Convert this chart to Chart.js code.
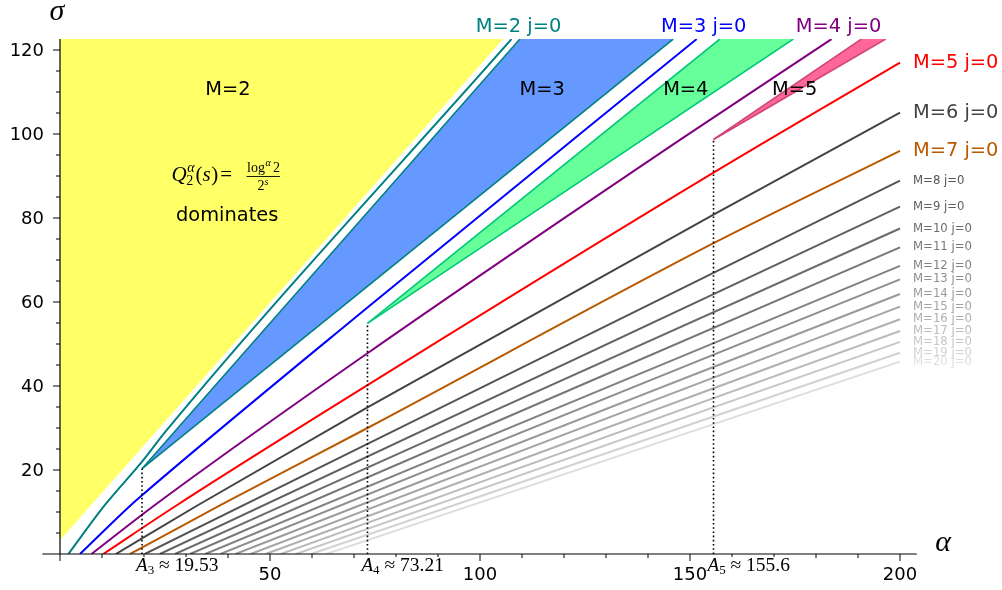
<!DOCTYPE html>
<html>
<head>
<meta charset="utf-8">
<script src="https://cdn.jsdelivr.net/npm/chart.js@4/dist/chart.umd.min.js"></script>
<style>
html,body{margin:0;padding:0;background:#fff;}
#c{display:block;}
</style>
</head>
<body>
<canvas id="c" width="1002" height="590"></canvas>
<script>
// ---------------- data ----------------
const xMinVal = -4.2, xMaxVal = 204.0;
const yMinVal = 0, yMaxVal = 122.6;
const xTickLabels = [50, 100, 150, 200];
const yTickLabels = [20, 40, 60, 80, 100, 120];

// shaded regions (alpha, sigma): tip, left-top, right-top
const yellowRegion = [[0, 3.3], [105.5, 122.6], [0, 122.6]];
const m3Region = [[19.53, 20.3], [109.5, 122.6], [146.0, 122.6]];
const m4Region = [[73.21, 54.9], [157.1, 122.6], [174.6, 122.6]];
const m5Region = [[155.6, 98.7], [190.8, 122.6], [196.6, 122.6]];

// thresholds A_M and the sigma where the region tip sits
const thresholdAlpha = [19.53, 73.21, 155.6];
const thresholdSigma = [20.3, 54.9, 98.7];
const thresholdText = ['19.53', '73.21', '155.6'];
const thresholdSub = ['3', '4', '5'];

// "M j=0" boundary curves (alpha, sigma)
const m2Line = [[2.0, 0], [10.7, 11.67], [19.53, 22.0], [25.4, 29.5], [107.5, 122.6]];
const m3Line = [[4.76, 0], [16.9, 11.67], [19.53, 14.0], [73.21, 58.7], [151.6, 122.6]];
const m4Line = [[7.5, 0], [22.6, 11.67], [73.21, 47.8], [147.6, 98.6], [183.7, 122.6]];
const m5Line = [[10.3, 0], [27.9, 11.67], [73.21, 40.2], [155.6, 90.8], [200, 117.0]];
const m6Line = [[13.3, 0], [32.9, 11.67], [73.21, 34.9], [155.6, 80.8], [200, 105.1]];
const m7Line = [[16.7, 0], [38.3, 11.67], [73.21, 30.0], [155.6, 74.0], [200, 96.0]];
const m8Line = [[20.2, 0], [200, 88.9]];
const m9Line = [[23.8, 0], [200, 82.7]];
const m10Line = [[27.4, 0], [200, 77.5]];
const m11Line = [[31.0, 0], [200, 73.0]];
const m12Line = [[34.6, 0], [200, 68.6]];
const m13Line = [[38.2, 0], [200, 65.4]];
const m14Line = [[41.8, 0], [200, 61.9]];
const m15Line = [[45.4, 0], [200, 58.9]];
const m16Line = [[49.0, 0], [200, 55.9]];
const m17Line = [[52.6, 0], [200, 53.1]];
const m18Line = [[56.2, 0], [200, 50.5]];
const m19Line = [[59.8, 0], [200, 47.9]];
const m20Line = [[63.4, 0], [200, 45.8]];

const mValues = [2, 3, 4, 5, 6, 7, 8, 9, 10, 11, 12, 13, 14, 15, 16, 17, 18, 19, 20];
const mLines = [m2Line, m3Line, m4Line, m5Line, m6Line, m7Line, m8Line, m9Line, m10Line,
  m11Line, m12Line, m13Line, m14Line, m15Line, m16Line, m17Line, m18Line, m19Line, m20Line];

const regionNames = ['M=2', 'M=3', 'M=4', 'M=5'];
const regionNameAlpha = [40, 114.8, 149.0, 174.9];
const regionNameSigma = [110.4, 110.4, 110.4, 110.4];

// ---------------- styles ----------------
function grayFor(m) {
  const g = Math.round(255 * (0.33 + (m - 8) * 0.045));
  return `rgb(${g},${g},${g})`;
}
function lineColor(m) {
  const named = {2: '#008080', 3: '#0000ff', 4: '#800080', 5: '#ff0000', 6: '#444444', 7: '#b85a00'};
  return named[m] || grayFor(m);
}
const toXY = arr => arr.map(p => ({x: p[0], y: p[1]}));

const datasets = [];
datasets.push({
  data: toXY(yellowRegion.concat([yellowRegion[0]])),
  borderWidth: 0, borderColor: 'rgba(0,0,0,0)', backgroundColor: '#ffff66',
  fill: 'shape', pointRadius: 0, tension: 0, order: 10
});
const regionStyles = [
  [m3Region, '#6699ff', '#008080'],
  [m4Region, '#66ff99', '#00c878'],
  [m5Region, '#ff6699', '#d0457a']
];
regionStyles.forEach(([reg, fillC, edgeC]) => {
  datasets.push({
    data: toXY(reg.concat([reg[0]])),
    backgroundColor: fillC, borderColor: 'rgba(0,0,0,0)', borderWidth: 0,
    fill: 'shape', pointRadius: 0, tension: 0, order: 9
  });
  [1, 2].forEach(k => {
    datasets.push({
      data: toXY([reg[0], reg[k]]),
      borderColor: edgeC, borderWidth: 1.6,
      fill: false, pointRadius: 0, tension: 0, order: 8
    });
  });
});
mLines.forEach((ln, i) => {
  datasets.push({
    data: toXY(ln), borderColor: lineColor(mValues[i]), borderWidth: 2,
    fill: false, pointRadius: 0, cubicInterpolationMode: 'monotone', order: 5
  });
});
thresholdAlpha.forEach((a, i) => {
  datasets.push({
    data: [{x: a, y: 0}, {x: a, y: thresholdSigma[i]}],
    borderColor: '#000', borderWidth: 1.6, borderDash: [1.6, 2.6],
    fill: false, pointRadius: 0, tension: 0, order: 1
  });
});

const deco = {
  id: 'deco',
  afterDatasetsDraw(chart) {
    const {ctx, chartArea: ca} = chart;
    const X = v => chart.scales.x.getPixelForValue(v);
    const Y = v => chart.scales.y.getPixelForValue(v);
    const x0 = X(0), y0 = Y(0);
    ctx.save();
    ctx.strokeStyle = '#000';
    ctx.lineWidth = 1.2;
    ctx.beginPath();
    ctx.moveTo(ca.left, y0); ctx.lineTo(ca.right, y0);
    ctx.moveTo(x0, y0); ctx.lineTo(x0, ca.top);
    ctx.stroke();
    ctx.lineWidth = 1;
    ctx.beginPath();
    for (let v = 0; v <= 200; v += 10) {
      const major = v % 50 === 0;
      ctx.moveTo(X(v), y0); ctx.lineTo(X(v), y0 + (major ? 7 : 4));
    }
    for (let v = 5; v <= 120; v += 5) {
      const major = v % 20 === 0;
      ctx.moveTo(x0, Y(v)); ctx.lineTo(x0 - (major ? 7 : 4), Y(v));
    }
    ctx.stroke();
    ctx.fillStyle = '#000';
    ctx.font = '18px "DejaVu Sans"';
    ctx.textAlign = 'center'; ctx.textBaseline = 'middle';
    xTickLabels.forEach(v => ctx.fillText(String(v), X(v), 575));
    ctx.textAlign = 'right';
    yTickLabels.forEach(v => ctx.fillText(String(v), x0 - 16, Y(v) + 1));
    ctx.font = 'italic 30px "Liberation Serif"';
    ctx.textAlign = 'center';
    ctx.fillText('σ', 57, 12);
    ctx.fillText('α', 943, 543);

    thresholdAlpha.forEach((a, i) => {
      const left = X(a) - 6, base = 571;
      ctx.font = 'italic 19px "Liberation Serif"';
      const wA = ctx.measureText('A').width;
      ctx.font = '13px "Liberation Serif"';
      const wS = ctx.measureText(thresholdSub[i]).width;
      ctx.font = '19.5px "Liberation Serif"';
      const rest = ' ≈ ' + thresholdText[i];
      const wR = ctx.measureText(rest).width;
      ctx.fillStyle = '#fff';
      ctx.fillRect(left - 1, 557, wA + wS + wR + 3, 18);
      ctx.fillStyle = '#000';
      ctx.textAlign = 'left'; ctx.textBaseline = 'alphabetic';
      ctx.font = 'italic 19px "Liberation Serif"';
      ctx.fillText('A', left, base);
      ctx.font = '13px "Liberation Serif"';
      ctx.fillText(thresholdSub[i], left + wA, base + 3);
      ctx.font = '19.5px "Liberation Serif"';
      ctx.fillText(rest, left + wA + wS, base);
    });

    ctx.font = '19.4px "DejaVu Sans"';
    ctx.textAlign = 'center'; ctx.textBaseline = 'middle';
    ctx.fillStyle = '#000';
    regionNames.forEach((t, i) => ctx.fillText(t, X(regionNameAlpha[i]), Y(regionNameSigma[i])));
    ctx.fillText('dominates', X(39.8), Y(80.6));

    // formula Q_2^α(s) = log^α 2 / 2^s
    ctx.textAlign = 'left'; ctx.textBaseline = 'alphabetic';
    let fx = 171.5;
    const fb = 181;
    ctx.font = 'italic 21px "Liberation Serif"';
    ctx.fillText('Q', fx, fb);
    fx += ctx.measureText('Q').width - 0.5;
    ctx.font = 'italic 14px "Liberation Serif"';
    ctx.fillText('α', fx + 1, fb - 9);
    const wa = ctx.measureText('α').width;
    ctx.font = '14px "Liberation Serif"';
    ctx.fillText('2', fx, fb + 4);
    fx += Math.max(wa + 1, ctx.measureText('2').width) + 1;
    ctx.font = '21px "Liberation Serif"';
    ctx.fillText('(', fx, fb); fx += ctx.measureText('(').width;
    ctx.font = 'italic 21px "Liberation Serif"';
    ctx.fillText('s', fx, fb); fx += ctx.measureText('s').width + 0.5;
    ctx.font = '21px "Liberation Serif"';
    ctx.fillText(')', fx, fb); fx += ctx.measureText(')').width + 2;
    ctx.fillText('=', fx, fb);
    ctx.font = '14px "Liberation Serif"';
    ctx.fillText('log', 247, 171.5);
    const wl = ctx.measureText('log').width;
    ctx.font = 'italic 10px "Liberation Serif"';
    ctx.fillText('α', 247 + wl + 0.5, 166);
    ctx.font = '14px "Liberation Serif"';
    ctx.fillText('2', 247 + wl + 8, 171.5);
    ctx.fillText('2', 257.5, 190);
    ctx.font = 'italic 10px "Liberation Serif"';
    ctx.fillText('s', 264.5, 185);
    ctx.lineWidth = 0.9;
    ctx.beginPath(); ctx.moveTo(246.5, 176.5); ctx.lineTo(280, 176.5); ctx.stroke();

    ctx.textBaseline = 'middle';
    mValues.forEach((m, i) => {
      const ln = mLines[i];
      const last = ln[ln.length - 1];
      ctx.fillStyle = lineColor(m);
      const txt = 'M=' + m + ' j=0';
      if (m <= 4) {
        ctx.font = '19.4px "DejaVu Sans"';
        ctx.textAlign = 'center';
        ctx.fillText(txt, X(last[0]) + 7, 27);
      } else {
        ctx.font = (m <= 7 ? '19.4px' : '11.7px') + ' "DejaVu Sans"';
        ctx.textAlign = 'left';
        ctx.fillText(txt, X(200) + 13, Y(last[1]));
      }
    });
    ctx.restore();
  }
};

const chart = new Chart(document.getElementById('c'), {
  type: 'line',
  data: { datasets },
  options: {
    responsive: false,
    animation: false,
    devicePixelRatio: 1,
    layout: { padding: { left: 42.36, right: 85.2, top: 39.08, bottom: 36 } },
    scales: {
      x: { type: 'linear', min: xMinVal, max: xMaxVal, display: false },
      y: { type: 'linear', min: yMinVal, max: yMaxVal, display: false }
    },
    plugins: { legend: { display: false }, tooltip: { enabled: false } },
    elements: { point: { radius: 0 } }
  },
  plugins: [deco]
});
</script>
</body>
</html>
